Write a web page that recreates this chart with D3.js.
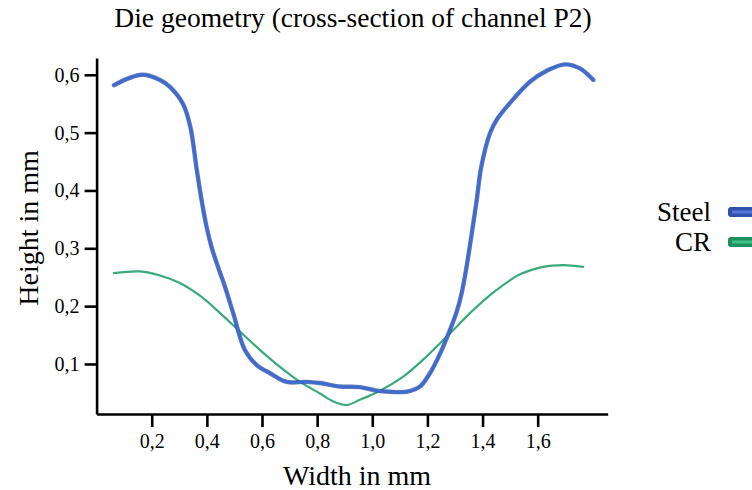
<!DOCTYPE html>
<html>
<head>
<meta charset="utf-8">
<script src="https://cdn.jsdelivr.net/npm/d3@7/dist/d3.min.js"></script>
<style>
  html, body { margin: 0; padding: 0; background: #fff; }
  svg { display: block; }
</style>
</head>
<body>
<div id="chart"></div>
<script>
// Die geometry — cross-section of channel P2

// Steel profile (width mm, height mm)
const steelX = [0.063, 0.164, 0.230, 0.266, 0.314, 0.340, 0.363, 0.381, 0.399,
  0.417, 0.441, 0.466, 0.496, 0.538, 0.581, 0.629, 0.690, 0.762, 0.810,
  0.883, 0.955, 1.016, 1.064, 1.125, 1.173, 1.209, 1.246, 1.282, 1.306,
  1.324, 1.342, 1.361, 1.379, 1.395, 1.427, 1.451, 1.499, 1.572,
  1.633, 1.699, 1.753, 1.802];
const steelY = [0.582, 0.600, 0.591, 0.579, 0.549, 0.510, 0.437, 0.383, 0.337,
  0.302, 0.267, 0.233, 0.187, 0.124, 0.098, 0.084, 0.069, 0.069, 0.067,
  0.061, 0.060, 0.054, 0.052, 0.052, 0.061, 0.084, 0.118, 0.159, 0.190,
  0.222, 0.268, 0.326, 0.384, 0.440, 0.499, 0.522, 0.551, 0.588,
  0.607, 0.618, 0.611, 0.591];

// CR profile
const crX = [0.063, 0.157, 0.230, 0.302, 0.375, 0.448, 0.520, 0.593, 0.665, 0.738,
  0.810, 0.859, 0.907, 0.955, 1.021, 1.112, 1.197, 1.282, 1.366, 1.451,
  1.536, 1.620, 1.693, 1.765];
const crY = [0.257, 0.260, 0.253, 0.240, 0.218, 0.188, 0.156, 0.124, 0.095, 0.069,
  0.049, 0.035, 0.029, 0.038, 0.052, 0.078, 0.113, 0.153, 0.193, 0.228,
  0.255, 0.268, 0.271, 0.268];

const xTicks = [0.2, 0.4, 0.6, 0.8, 1.0, 1.2, 1.4, 1.6];
const yTicks = [0.1, 0.2, 0.3, 0.4, 0.5, 0.6];
const seriesNames = ['Steel', 'CR'];

const W = 752, H = 490;
const FONT = '"Liberation Serif", "Times New Roman", serif';
const COL = { steel: '#3f6bcc', steelDark: '#2f4fa8', cr: '#3aaa7c', crDark: '#1e8f5f', ink: '#000' };

const svg = d3.select('#chart').append('svg')
  .attr('width', W).attr('height', H)
  .attr('viewBox', `0 0 ${W} ${H}`);

const x = d3.scaleLinear().domain([0, 1.854]).range([96.6, 607.7]);
const y = d3.scaleLinear().domain([0.0135, 0.629]).range([414, 58]);

const fmt = d => d3.format('.1f')(d).replace('.', ',');

// Axes
const gx = svg.append('g')
  .attr('transform', `translate(0,${y.range()[0]})`)
  .call(d3.axisBottom(x).tickValues(xTicks).tickSize(13).tickPadding(7).tickFormat(fmt).tickSizeOuter(0));
const gy = svg.append('g')
  .attr('transform', `translate(${x.range()[0]},0)`)
  .call(d3.axisLeft(y).tickValues(yTicks).tickSize(12).tickPadding(5).tickFormat(fmt).tickSizeOuter(0));

[gx, gy].forEach(g => {
  g.attr('font-family', FONT).attr('font-size', 20);
  g.select('.domain').attr('stroke', COL.ink).attr('stroke-width', 2.6);
  g.selectAll('.tick line').attr('stroke', COL.ink).attr('stroke-width', 2.6);
  g.selectAll('.tick text')
    .style('font-family', FONT).style('font-size', '20px').attr('fill', COL.ink);
});

// Curves
const line = d3.line().x(d => x(d[0])).y(d => y(d[1])).curve(d3.curveCatmullRom.alpha(0.5));
const steel = steelX.map((v, i) => [v, steelY[i]]);
const cr = crX.map((v, i) => [v, crY[i]]);

svg.append('path').datum(cr).attr('d', line)
  .attr('fill', 'none').attr('stroke', COL.cr).attr('stroke-width', 2.2)
  .attr('stroke-linecap', 'round');

svg.append('path').datum(steel).attr('d', line)
  .attr('fill', 'none').attr('stroke', COL.steelDark).attr('stroke-width', 4.4)
  .attr('stroke-opacity', 0.75).attr('stroke-linecap', 'round');
svg.append('path').datum(steel).attr('d', line)
  .attr('fill', 'none').attr('stroke', COL.steel).attr('stroke-width', 2.8)
  .attr('stroke-linecap', 'round');

// Titles
svg.append('text')
  .attr('x', 353).attr('y', 27)
  .attr('text-anchor', 'middle')
  .attr('font-family', FONT).attr('font-size', 27.5).attr('fill', COL.ink)
  .text('Die geometry (cross-section of channel P2)');

svg.append('text')
  .attr('x', 357).attr('y', 485)
  .attr('text-anchor', 'middle')
  .attr('font-family', FONT).attr('font-size', 28).attr('fill', COL.ink)
  .text('Width in mm');

svg.append('text')
  .attr('transform', 'translate(38,228) rotate(-90)')
  .attr('text-anchor', 'middle')
  .attr('font-family', FONT).attr('font-size', 28).attr('fill', COL.ink)
  .text('Height in mm');

// Legend
const legColors = [[COL.steelDark, '#5576d6'], [COL.crDark, '#42c08c']];
const leg = svg.append('g');
seriesNames.forEach((name, i) => {
  const ly = 212 + i * 30;
  leg.append('text')
    .attr('x', 711).attr('y', ly + 9)
    .attr('text-anchor', 'end')
    .attr('font-family', FONT).attr('font-size', 27).attr('fill', COL.ink)
    .text(name);
  leg.append('rect')
    .attr('x', 728).attr('y', ly - 5).attr('width', 34).attr('height', 10)
    .attr('rx', 3).attr('fill', legColors[i][0]);
  leg.append('rect')
    .attr('x', 732).attr('y', ly - 1.5).attr('width', 30).attr('height', 3)
    .attr('fill', legColors[i][1]);
});
</script>
</body>
</html>
